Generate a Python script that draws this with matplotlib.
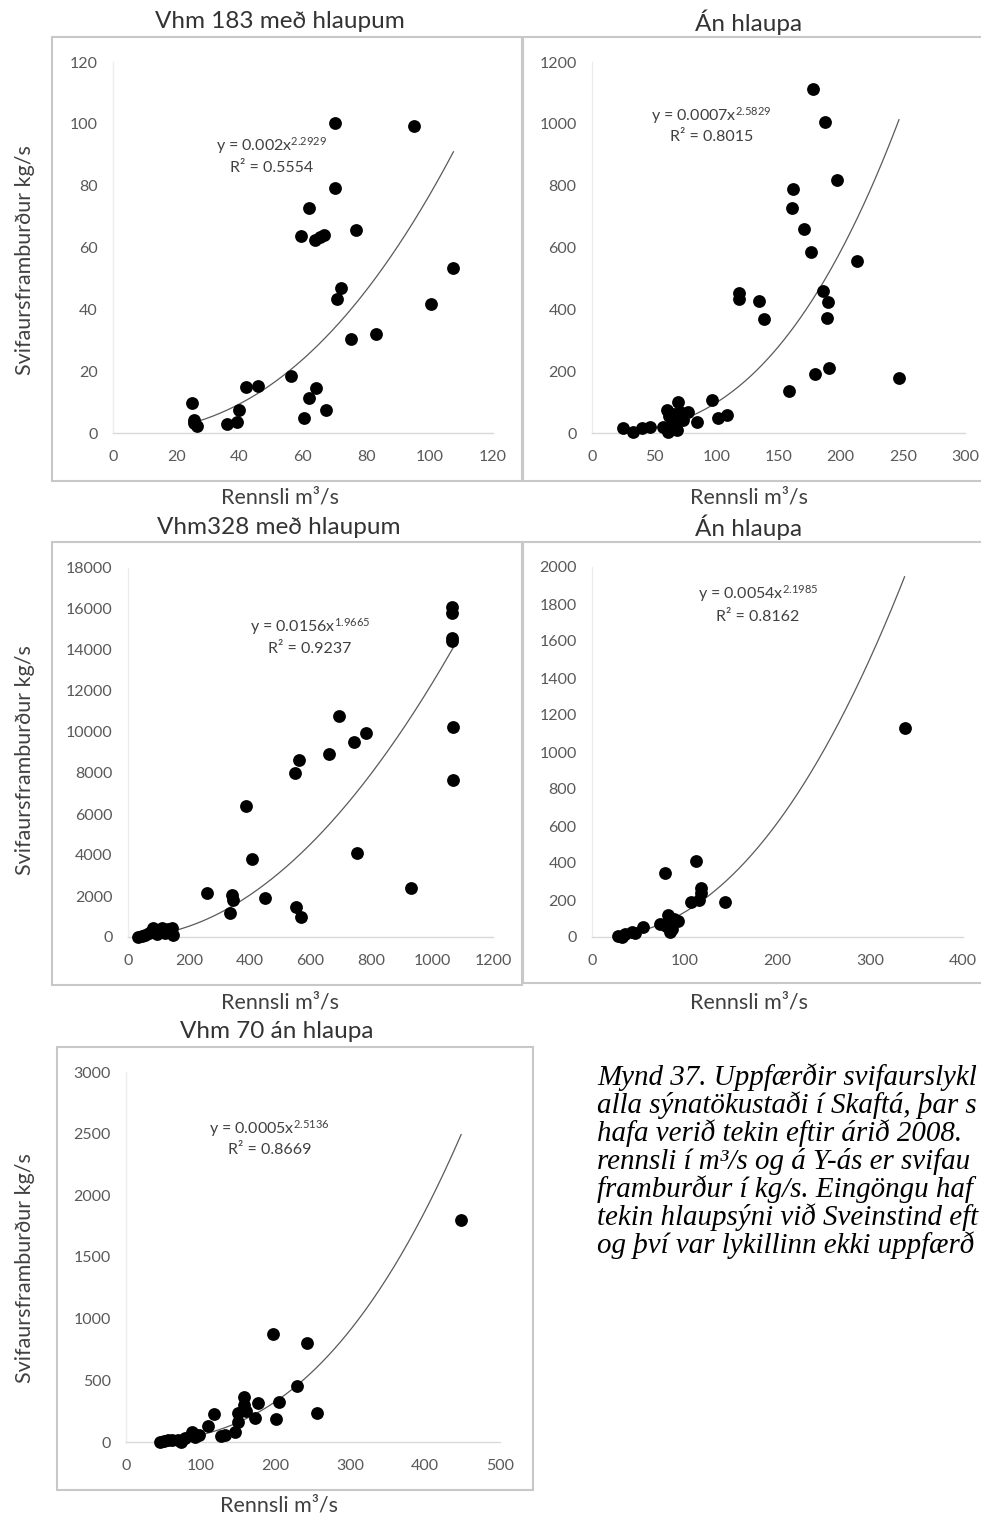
import numpy as np
import matplotlib
matplotlib.use('Agg')
import matplotlib.pyplot as plt
from matplotlib.patches import Rectangle
from matplotlib.font_manager import FontProperties

plt.rcParams['font.family'] = ['Lato', 'DejaVu Sans']
plt.rcParams['mathtext.fontset'] = 'custom'
plt.rcParams['mathtext.rm'] = 'Lato'
plt.rcParams['mathtext.it'] = 'Lato:italic'
plt.rcParams['mathtext.bf'] = 'Lato:bold'

# ---------------- data ----------------
titles = ["Vhm 183 með hlaupum", "Án hlaupa", "Vhm328 með hlaupum", "Án hlaupa", "Vhm 70 án hlaupa"]
xlabel = "Rennsli m³/s"
ylabel = "Svifaursframburður kg/s"

# Vhm 183 með hlaupum
q1 = [70, 95, 70, 62, 59.5, 63.8, 65.4, 66.7, 76.7, 107.5, 72, 70.6, 100.4, 82.9, 75.2,
      56.2, 41.9, 45.7, 64, 61.9, 25, 39.8, 67.2, 60.3, 25.7, 26.4, 35.9, 39.3, 25.5]
s1 = [100.3, 99.4, 79.1, 72.7, 63.7, 62.4, 63.3, 64, 65.6, 53.5, 46.8, 43.2, 41.6, 31.9, 30.4,
      18.5, 15, 15.2, 14.4, 11.4, 9.8, 7.6, 7.6, 4.7, 4.2, 2.3, 2.9, 3.5, 3.2]

# Vhm 183 án hlaupa
q2 = [177.5, 187.4, 196.8, 161.4, 160.9, 170.2, 175.9, 213.4, 118.5, 118.5, 134.3, 138.6,
      185.5, 189.6, 188.8, 191, 179.4, 158.4, 246.9, 96.3, 101.6, 108.3,
      25.2, 33.2, 40, 46.6, 57.4, 61.4, 64.1, 60, 69.4, 70.8, 77.5, 73.4, 68, 84.2, 62, 66]
s2 = [1112, 1007, 818, 789, 728, 660, 586, 557, 452, 432, 427, 368,
      459, 423, 371, 211, 190, 137, 179, 107, 47, 58,
      15, 4, 15, 20, 20, 4, 37, 74, 101, 69, 69, 42, 10, 37, 55, 60]

# Vhm328 með hlaupum
q3 = [1064, 1064, 1066, 1066, 1067, 1069, 694, 782, 743, 661, 562, 549, 387, 409, 752,
      259, 343, 346, 450, 929, 552, 569, 335,
      34, 45, 56, 70, 78, 83, 94, 105, 111, 122, 130, 144, 149, 140]
s3 = [16114, 15789, 14570, 14440, 10228, 7659, 10797, 9967, 9496, 8911, 8634, 7984, 6406, 3805, 4081,
      2130, 2049, 1805, 1919, 2374, 1480, 991, 1154,
      0, 50, 100, 200, 300, 420, 150, 260, 450, 180, 380, 420, 100, 250]

# Vhm328 án hlaupa
q4 = [28, 32, 36, 43, 46, 55, 73, 80, 82, 84, 86, 93, 88, 79, 107, 115, 118, 118, 112, 143, 337]
s4 = [7, 2, 16, 29, 20, 52, 68, 59, 119, 29, 41, 86, 100, 344, 191, 200, 236, 267, 411, 187, 1128]

# Vhm 70 án hlaupa
q5 = [46, 51, 56, 61, 69, 74, 79, 88, 92, 97, 109, 118, 127, 133, 146, 150, 150, 158, 158, 161,
      172, 176, 200, 204, 197, 229, 242, 255, 448]
s5 = [2, 8, 16, 19, 16, 2, 30, 84, 44, 60, 130, 227, 49, 55, 84, 165, 232, 300, 362, 250,
      192, 319, 184, 327, 873, 454, 800, 232, 1800]

# power-law trendlines y = a * x^b
trend_a = [0.002, 0.00067, 0.0156, 0.0054, 0.00054]
trend_b = [2.2929, 2.5829, 1.9665, 2.1985, 2.5136]
eq_text = [r"y = 0.002x$^{2.2929}$", r"y = 0.0007x$^{2.5829}$", r"y = 0.0156x$^{1.9665}$",
           r"y = 0.0054x$^{2.1985}$", r"y = 0.0005x$^{2.5136}$"]
r2_text = ["R² = 0.5554", "R² = 0.8015", "R² = 0.9237", "R² = 0.8162", "R² = 0.8669"]

# caption as visible on the page (the page edge cuts it on the right)
caption_lines = [
    "Mynd 37. Uppfærðir svifaurslykl",
    "alla sýnatökustaði í Skaftá, þar s",
    "hafa verið tekin eftir árið 2008.",
    "rennsli í m³/s og á Y-ás er svifau",
    "framburður í kg/s. Eingöngu haf",
    "tekin hlaupsýni við Sveinstind eft",
    "og því var lykillinn ekki uppfærð",
]

# ---------------- layout (pixels) ----------------
W, H = 981, 1517
fig = plt.figure(figsize=(W / 100, H / 100), dpi=100)


def fx(x):
    return x / W


def fy(y):
    return 1 - y / H


panels = [
    dict(q=q1, s=s1, box=(113, 493, 62, 433), xlim=(0, 120), ylim=(0, 120),
         xt=np.arange(0, 121, 20), yt=np.arange(0, 121, 20),
         frame=(52, 37, 522, 481), title=(280, 22), xl=(280, 497), yl=(25, 260),
         eq=(50, 93, 85.7)),
    dict(q=q2, s=s2, box=(592, 965, 62, 433), xlim=(0, 300), ylim=(0, 1200),
         xt=np.arange(0, 301, 50), yt=np.arange(0, 1201, 200),
         frame=(523, 37, 1000, 481), title=(749, 22), xl=(749, 497), yl=None,
         eq=(96, 1028, 958)),
    dict(q=q3, s=s3, box=(128, 493, 568, 937), xlim=(0, 1200), ylim=(0, 18000),
         xt=np.arange(0, 1201, 200), yt=np.arange(0, 18001, 2000),
         frame=(52, 542, 522, 985), title=(279, 527), xl=(280, 1003), yl=(25, 760),
         eq=(598, 15138, 14033)),
    dict(q=q4, s=s4, box=(592, 963, 567, 937), xlim=(0, 400), ylim=(0, 2000),
         xt=np.arange(0, 401, 100), yt=np.arange(0, 2001, 200),
         frame=(523, 542, 1000, 983), title=(749, 527), xl=(749, 1003), yl=None,
         eq=(179, 1858, 1731)),
    dict(q=q5, s=s5, box=(126, 500, 1072, 1442), xlim=(0, 500), ylim=(0, 3000),
         xt=np.arange(0, 501, 100), yt=np.arange(0, 3001, 500),
         frame=(57, 1047, 533, 1490), title=(277, 1032), xl=(279, 1505), yl=(25, 1268),
         eq=(192, 2543, 2368)),
]

tick_color = '#595959'
text_color = '#404040'

for i, p in enumerate(panels):
    # chart border
    x0, y0, x1, y1 = p['frame']
    fig.patches.append(Rectangle((fx(x0), fy(y1)), fx(x1 - x0), (y1 - y0) / H,
                                 transform=fig.transFigure, fill=False,
                                 edgecolor='#c8c8c8', linewidth=1.5, zorder=0))
    l, r, t, b = p['box']
    ax = fig.add_axes([fx(l), fy(b), fx(r - l), (b - t) / H])
    ax.set_facecolor('none')
    ax.set_xlim(*p['xlim'])
    ax.set_ylim(*p['ylim'])
    ax.set_xticks(p['xt'])
    ax.set_yticks(p['yt'])
    ax.tick_params(length=0, labelsize=11.5, colors=tick_color)
    ax.tick_params(axis='x', pad=12.5)
    ax.tick_params(axis='y', pad=11)
    for sp in ['top', 'right']:
        ax.spines[sp].set_visible(False)
    ax.spines['bottom'].set_color('#d9d9d9')
    ax.spines['left'].set_color('#ececec')
    ax.spines['bottom'].set_linewidth(1.0)
    ax.spines['left'].set_linewidth(1.0)

    q = np.array(p['q'], dtype=float)
    s = np.array(p['s'], dtype=float)
    ax.scatter(q, s, s=85, color='black', zorder=3, clip_on=False, linewidths=0)

    xx = np.linspace(q.min(), q.max(), 300)
    ax.plot(xx, trend_a[i] * xx ** trend_b[i], color='#5a5a5a', lw=0.9, zorder=2,
            clip_on=False)

    ex, ey1, ey2 = p['eq']
    ax.text(ex, ey1, eq_text[i], ha='center', va='center', fontsize=11.5, color=text_color)
    ax.text(ex, ey2, r2_text[i], ha='center', va='center', fontsize=11.5, color=text_color)

    tx, ty = p['title']
    fig.text(fx(tx), fy(ty), titles[i], ha='center', va='center', fontsize=17.5,
             color='#333333')
    lx, ly = p['xl']
    fig.text(fx(lx), fy(ly), xlabel, ha='center', va='center', fontsize=15.5,
             color=text_color)
    if p['yl'] is not None:
        yx, yy = p['yl']
        fig.text(fx(yx), fy(yy), ylabel, ha='center', va='center', rotation=90,
                 fontsize=15.5, color=text_color)

# caption: one multi-line text; size so that the widest line reaches the page edge,
# ~26.4 px between baselines (matplotlib: spacing = descent + ascent * linespacing)
renderer = fig.canvas.get_renderer()
cap_family = ['Liberation Serif', 'DejaVu Serif']
fp = FontProperties(family=cap_family, style='italic', size=18)
widest = max(renderer.get_text_width_height_descent(ln, fp, ismath=False)[0]
             for ln in caption_lines)
cap_size = 18 * (979 - 597) / widest
fp.set_size(cap_size)
_, lp_h, lp_d = renderer.get_text_width_height_descent("lp", fp, ismath=False)
asc = lp_h - lp_d
linesp = (26.4 - lp_d) / asc
base0 = 1083
fig.text(fx(597), fy(base0 - asc), "\n".join(caption_lines), ha='left', va='top',
         fontsize=cap_size, style='italic', color='black', family=cap_family,
         linespacing=linesp)

fig.savefig('out.png', dpi=100)
